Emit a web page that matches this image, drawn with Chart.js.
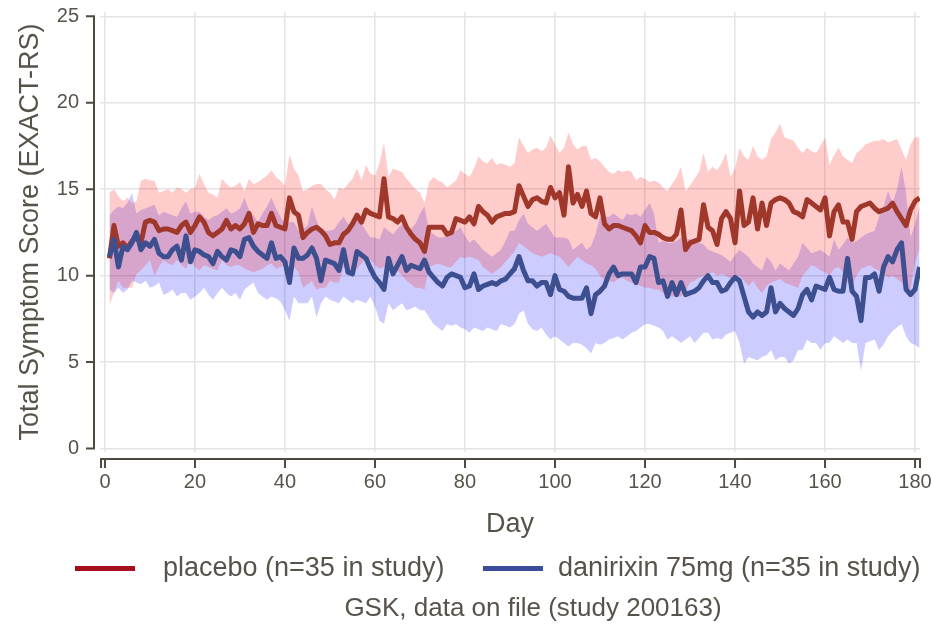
<!DOCTYPE html>
<html>
<head>
<meta charset="utf-8">
<script src="https://cdn.jsdelivr.net/npm/chart.js@4/dist/chart.umd.min.js"></script>
<style>
html,body{margin:0;padding:0;background:#ffffff;}
#wrap{width:932px;height:626px;}
</style>
</head>
<body>
<div id="wrap"><canvas id="c" width="932" height="626"></canvas></div>
<script>
// ---------- data ----------
const firstDay = 1, lastDay = 181;
const days = Array.from({length: lastDay - firstDay + 1}, (_, i) => firstDay + i);

const placeboMean = [
11.0,12.9,11.7,11.9,11.6,12.0,12.2,11.9,13.1,13.2,
13.1,12.6,12.7,12.7,12.6,12.5,12.9,13.1,12.5,12.9,
13.4,13.1,12.5,12.3,12.5,12.7,13.2,12.7,12.9,12.7,
13.0,13.6,12.5,13.0,12.9,12.9,13.6,12.9,12.8,12.7,
14.5,13.7,13.5,12.2,12.5,12.7,12.8,12.6,12.3,11.8,
11.9,11.9,12.4,12.6,13.0,13.5,13.1,13.8,13.6,13.5,
13.4,15.6,13.4,13.3,13.1,13.4,12.8,12.4,12.1,11.9,
11.4,12.8,12.8,12.8,12.8,12.4,12.5,13.3,13.2,13.1,
13.4,13.0,14.0,13.7,13.5,13.1,13.4,13.5,13.6,13.6,
13.7,15.2,14.6,14.0,14.4,14.5,14.3,14.2,15.1,14.5,
14.8,13.5,16.3,14.2,14.7,14.0,14.9,13.6,13.4,14.5,
13.0,12.7,12.9,12.9,12.8,12.7,12.6,12.3,11.9,12.9,
12.5,12.5,12.4,12.2,12.1,12.1,12.4,13.8,11.5,11.9,
12.0,12.1,14.1,12.8,12.6,11.8,13.3,13.7,13.3,11.9,
14.9,12.9,13.1,14.5,12.7,14.2,12.9,14.2,14.4,14.5,
14.4,14.2,13.7,13.6,13.4,14.4,14.2,14.0,13.8,14.5,
12.3,13.7,14.1,13.1,13.1,12.1,13.7,14.0,14.1,14.2,
13.9,13.7,13.8,13.9,14.2,13.7,13.3,12.9,13.8,14.3,14.5];

const placeboUpper = [
14.8,15.0,14.6,14.3,14.5,14.2,14.3,15.5,15.6,15.5,
15.5,14.8,14.9,15.0,14.8,15.1,15.0,14.8,15.0,15.1,
15.9,15.3,14.8,14.7,14.5,15.6,15.3,15.1,15.2,15.4,
14.9,15.6,15.3,15.4,15.6,15.8,16.1,15.7,15.5,15.2,
17.0,16.2,15.8,14.9,15.0,15.2,15.3,15.3,15.0,14.8,
14.4,15.1,15.0,15.3,15.6,16.2,15.5,16.4,15.9,15.8,
16.5,17.7,15.7,16.2,16.1,16.0,15.6,15.3,15.0,14.8,
14.2,15.4,15.7,15.5,15.4,15.1,15.3,15.5,16.1,15.9,
15.7,16.2,16.9,16.6,16.5,16.8,16.4,16.5,16.4,16.3,
16.5,18.0,17.5,17.1,17.3,17.4,17.2,17.4,18.1,17.6,
17.1,17.4,18.3,17.6,17.3,17.5,17.5,16.7,16.8,16.6,
16.3,16.0,15.9,16.1,16.0,16.1,16.0,15.5,15.7,15.6,
15.4,15.5,15.4,15.1,14.9,15.3,15.7,16.3,14.9,15.2,
15.6,16.0,17.1,16.0,16.3,16.1,16.5,17.1,15.7,16.2,
17.4,16.9,16.7,17.5,16.9,16.7,16.9,17.9,18.3,18.8,
18.0,17.9,17.8,17.4,17.1,17.4,17.2,17.1,17.5,18.0,
16.4,17.0,17.4,16.9,16.7,16.5,17.1,17.3,17.6,17.7,
17.8,17.8,17.9,17.7,17.8,17.9,17.3,16.7,17.6,18.0,18.0];

const placeboLower = [
8.3,9.0,9.7,9.3,9.3,9.3,10.1,10.3,10.6,10.9,
10.0,10.5,10.9,10.7,10.6,10.9,10.6,10.4,10.9,10.5,
10.3,10.6,10.5,10.4,10.3,10.9,10.6,10.5,10.6,10.6,
10.4,10.3,10.2,10.3,10.4,10.6,10.7,10.4,10.5,10.6,
10.7,10.5,10.2,9.3,9.5,9.7,9.2,9.3,9.3,9.7,
9.6,9.6,10.5,10.3,10.1,10.4,10.7,11.0,10.9,10.6,
10.4,10.5,10.6,10.5,10.3,10.0,9.7,9.5,9.3,9.3,
9.2,10.5,10.6,10.7,10.6,10.5,10.5,10.8,11.1,11.0,
11.1,11.0,10.9,10.5,10.3,10.1,10.3,10.5,10.8,11.1,
11.4,11.9,11.7,11.5,11.3,11.2,11.1,11.2,11.3,11.2,
11.1,10.8,10.5,10.8,11.1,10.9,10.7,10.6,10.4,10.0,
9.7,9.7,9.6,9.8,9.9,9.7,9.6,9.5,9.4,9.3,
9.3,9.2,9.2,9.0,8.9,8.8,8.8,8.8,9.1,9.6,
9.7,9.9,10.0,10.1,10.2,10.0,10.1,10.0,9.8,9.9,
10.0,9.7,9.4,9.7,9.3,9.0,9.4,9.6,9.7,9.8,
9.6,9.5,9.4,9.3,10.0,10.3,10.6,10.5,10.3,10.2,
10.0,10.4,10.5,10.2,9.6,9.4,10.0,10.4,10.5,10.6,
10.4,10.3,10.1,9.9,10.0,9.8,9.6,9.2,9.2,10.8,11.5];

const danirixinMean = [
11.1,12.1,10.5,11.7,11.5,11.9,12.5,11.5,11.9,11.7,
12.1,11.3,11.1,11.1,11.5,11.7,10.9,12.3,10.8,11.5,
11.4,11.2,11.1,10.7,11.4,11.1,10.9,11.5,11.4,11.1,
12.1,12.2,11.7,11.4,11.2,11.0,11.9,11.0,11.1,10.8,
9.6,11.6,11.0,11.0,11.2,11.6,11.0,9.7,10.9,10.8,
10.7,10.3,11.5,10.2,10.1,11.4,11.2,11.0,10.4,9.9,
9.6,9.2,11.0,10.1,10.6,11.1,10.3,10.6,10.5,10.4,
10.9,10.2,9.9,9.6,9.4,9.9,10.1,10.0,9.9,9.3,
9.4,10.1,9.2,9.4,9.5,9.6,9.5,9.7,9.8,10.1,
10.4,11.1,10.3,9.7,9.7,9.4,9.6,9.6,8.9,10.0,
9.2,9.1,8.8,8.7,8.7,8.7,9.3,7.8,8.9,9.1,
9.4,10.1,10.5,10.0,10.1,10.1,10.1,9.6,10.5,10.5,
11.1,11.0,9.6,9.7,8.8,9.6,8.9,9.6,8.9,9.0,
9.1,9.3,9.7,10.0,9.6,9.6,9.1,9.2,9.6,9.9,
9.7,8.8,7.9,7.6,7.9,7.7,7.9,9.3,7.9,8.4,
8.1,7.9,7.7,8.1,8.9,9.2,8.6,9.4,9.3,9.2,
9.9,9.2,9.1,9.1,11.0,9.1,8.8,7.4,9.9,9.9,
10.1,9.1,10.5,11.1,10.8,11.5,11.9,9.2,8.9,9.2,10.5];

const danirixinUpper = [
13.5,13.8,14.0,13.9,14.2,14.8,13.6,13.8,13.9,14.0,
14.1,13.5,13.7,13.6,13.5,13.4,13.9,14.3,13.6,13.7,
13.7,13.4,13.2,13.4,13.5,13.7,13.9,13.6,13.7,13.9,
14.5,13.8,13.5,13.1,13.6,14.0,14.5,13.9,13.4,13.0,
13.1,13.1,12.6,12.7,12.9,14.0,13.2,12.6,12.6,12.6,
12.7,13.1,13.4,13.0,12.8,13.4,13.0,12.6,12.2,12.2,
12.1,12.8,12.6,12.4,12.7,13.0,12.8,12.7,13.0,13.6,
14.0,12.6,12.4,12.2,12.2,12.3,12.4,12.6,12.8,12.3,
11.9,12.1,11.8,11.5,11.3,11.1,11.3,11.5,12.0,12.6,
12.6,13.2,13.6,13.0,12.8,12.6,12.8,13.0,12.6,12.2,
12.2,12.2,12.1,11.5,11.7,11.9,11.5,11.7,12.4,13.4,
13.4,13.4,13.6,13.4,13.2,13.6,13.5,13.6,13.4,13.8,
14.2,13.6,11.9,12.0,11.9,11.9,12.0,12.2,12.1,12.1,
12.0,11.9,11.8,11.5,11.4,11.3,11.2,11.0,10.8,11.2,
11.5,11.3,11.1,10.7,10.5,10.3,11.1,10.8,10.3,10.7,
10.5,10.3,10.7,11.1,11.9,11.6,11.3,11.4,11.5,11.3,
11.1,12.1,11.5,11.8,12.2,11.9,12.0,12.2,12.4,12.5,
12.6,13.4,14.0,14.9,14.2,15.0,16.3,14.8,12.2,13.0,14.0];

const danirixinLower = [
9.2,9.0,9.3,9.0,9.2,9.7,9.6,9.5,9.7,9.3,
9.4,9.6,8.9,9.0,9.2,8.8,9.0,9.0,8.6,8.8,
9.0,9.3,8.9,8.6,9.0,9.3,9.0,8.8,9.0,8.6,
9.2,9.4,9.6,9.0,8.8,8.6,8.8,8.7,8.5,8.0,
7.4,8.8,8.4,8.4,8.4,8.8,7.6,8.4,8.8,8.6,
8.5,8.4,8.8,8.6,8.4,8.6,8.5,8.4,8.8,8.2,
7.4,7.2,8.4,8.0,8.2,8.4,8.0,8.1,8.2,8.0,
8.0,7.6,7.2,7.0,6.8,7.2,7.1,7.2,7.0,6.9,
6.7,7.0,6.9,6.8,7.0,6.9,6.8,7.2,7.1,7.0,
7.2,7.8,8.0,7.2,6.9,6.8,7.0,6.6,6.3,6.5,
6.3,6.1,5.9,6.1,6.1,6.0,5.8,5.5,6.1,6.0,
6.1,6.3,6.4,6.5,6.3,6.5,6.7,6.8,7.0,7.2,
7.2,7.1,7.0,6.8,6.3,6.5,6.3,6.1,6.3,6.5,
6.1,6.4,6.7,6.7,6.3,6.4,6.3,6.6,6.7,6.8,
6.1,4.9,5.3,5.2,5.1,5.3,5.4,5.7,5.1,5.3,
5.3,4.9,5.1,5.7,5.7,6.3,6.1,6.1,5.7,6.1,
6.1,6.5,6.3,6.1,6.3,6.1,6.1,4.5,6.1,6.2,
6.3,5.7,6.0,6.5,6.8,7.0,7.2,6.5,6.1,6.0,5.8];

const seriesLabels = ['placebo (n=35 in study)', 'danirixin 75mg (n=35 in study)'];
const xTitle = 'Day';
const yTitle = 'Total Symptom Score (EXACT-RS)';
const caption = 'GSK, data on file (study 200163)';

// ---------- styling ----------
const FONT = '"Liberation Sans", Arial, Helvetica, sans-serif';
const TEXT = '#57534a';
const AXIS = '#4e4a40';
const GRID = '#e4e4e4';
const RED_LINE = '#a0372b', BLUE_LINE = '#3d4f8f';
const RED_KEY = '#a5101c', BLUE_KEY = '#3b4c9a';
const RED_BAND = 'rgba(255,0,0,0.2)', BLUE_BAND = 'rgba(0,0,255,0.2)';

Chart.defaults.font.family = FONT;
Chart.defaults.color = TEXT;

// legend key images: a 60x5 swatch placed inside a transparent canvas
function swatch(color, canvasWidth, alignRight) {
  const c = document.createElement('canvas');
  c.width = canvasWidth; c.height = 5;
  const g = c.getContext('2d');
  g.fillStyle = color;
  g.fillRect(alignRight ? canvasWidth - 60 : (canvasWidth - 60) / 2, 0, 60, 5);
  return c;
}
const swatches = [swatch(RED_KEY, 60, false), swatch(BLUE_KEY, 86, true)];

// offset d3-style axis lines
const offsetAxes = {
  id: 'offsetAxes',
  afterDraw(chart) {
    const {ctx, chartArea: a, scales: {x, y}} = chart;
    ctx.save();
    ctx.strokeStyle = AXIS;
    ctx.lineWidth = 2;
    const yx = a.left - 6;
    const yv = y.ticks.map(t => t.value);
    const yTop = y.getPixelForValue(Math.max(...yv));
    const yBot = y.getPixelForValue(Math.min(...yv));
    ctx.beginPath();
    ctx.moveTo(yx - 8, yTop); ctx.lineTo(yx, yTop); ctx.lineTo(yx, yBot); ctx.lineTo(yx - 8, yBot);
    y.ticks.forEach(t => { const p = y.getPixelForValue(t.value); ctx.moveTo(yx - 8, p); ctx.lineTo(yx, p); });
    ctx.stroke();
    const xy = a.bottom + 7;
    ctx.beginPath();
    ctx.moveTo(a.left + 1, xy + 9); ctx.lineTo(a.left + 1, xy); ctx.lineTo(a.right, xy); ctx.lineTo(a.right, xy + 9);
    x.ticks.forEach(t => { const p = x.getPixelForValue(t.value); ctx.moveTo(p, xy); ctx.lineTo(p, xy + 9); });
    ctx.stroke();
    ctx.restore();
  }
};

const captionPlugin = {
  id: 'caption',
  afterDraw(chart) {
    const ctx = chart.ctx;
    ctx.save();
    ctx.font = '26px ' + FONT;
    ctx.fillStyle = TEXT;
    ctx.textAlign = 'center';
    ctx.textBaseline = 'middle';
    ctx.fillText(caption, 533, 609);
    ctx.restore();
  }
};

const legendShift = {
  id: 'legendShift',
  afterLayout(chart) {
    const L = chart.legend;
    if (L) { L.left += 49.5; L.right += 49.5; }
  }
};

const lineDs = (label, data, color, order) => ({
  label, data, borderColor: color, backgroundColor: color, borderWidth: 5,
  pointRadius: 0, pointHoverRadius: 0, fill: false, order, tension: 0, borderJoinStyle: 'round'
});
const bandDs = (data, fill, color, order) => ({
  label: '', data, borderWidth: 0, borderColor: 'rgba(0,0,0,0)', pointRadius: 0, pointHoverRadius: 0,
  fill, backgroundColor: color, order, tension: 0
});

new Chart(document.getElementById('c'), {
  type: 'line',
  data: {
    labels: days,
    datasets: [
      lineDs(seriesLabels[0], placeboMean, RED_LINE, 1),
      lineDs(seriesLabels[1], danirixinMean, BLUE_LINE, 0),
      bandDs(placeboUpper, '+1', RED_BAND, 2),
      bandDs(placeboLower, false, RED_BAND, 2),
      bandDs(danirixinUpper, '+1', BLUE_BAND, 3),
      bandDs(danirixinLower, false, BLUE_BAND, 3)
    ]
  },
  options: {
    responsive: false,
    animation: false,
    events: [],
    layout: { autoPadding: false, padding: { top: 12, right: 12, bottom: 34, left: 0 } },
    scales: {
      x: {
        type: 'linear', min: -1.1, max: 181.1,
        grid: { color: GRID, lineWidth: 1.5, drawTicks: false },
        border: { display: false },
        ticks: { stepSize: 20, includeBounds: false, padding: 18, maxRotation: 0, autoSkip: false, font: { size: 20 }, color: TEXT },
        title: { display: true, text: xTitle, font: { size: 27 }, color: TEXT, padding: { top: 0, bottom: 3 } },
        afterFit(s) { s.height = 92; s.paddingLeft = 0; s.paddingRight = 0; }
      },
      y: {
        type: 'linear', min: -0.2, max: 25.25,
        grid: { color: GRID, lineWidth: 1.5, drawTicks: false },
        border: { display: false },
        ticks: { stepSize: 5, includeBounds: false, padding: 21, font: { size: 20 }, color: TEXT },
        title: { display: true, text: yTitle, font: { size: 27 }, color: TEXT, padding: { top: 14, bottom: 0 } },
        afterFit(s) { s.width = 100; s.paddingTop = 0; s.paddingBottom = 0; }
      }
    },
    plugins: {
      tooltip: { enabled: false },
      legend: {
        position: 'bottom', align: 'start',
        labels: {
          usePointStyle: true, pointStyleWidth: 89, padding: 11,
          font: { size: 27 }, color: TEXT,
          generateLabels(chart) {
            return [0, 1].map(i => ({
              text: chart.data.datasets[i].label,
              pointStyle: swatches[i],
              fillStyle: i ? BLUE_KEY : RED_KEY,
              strokeStyle: 'rgba(0,0,0,0)',
              lineWidth: 0,
              hidden: false,
              datasetIndex: i,
              fontColor: TEXT
            }));
          }
        }
      }
    }
  },
  plugins: [offsetAxes, captionPlugin, legendShift]
});
</script>
</body>
</html>
